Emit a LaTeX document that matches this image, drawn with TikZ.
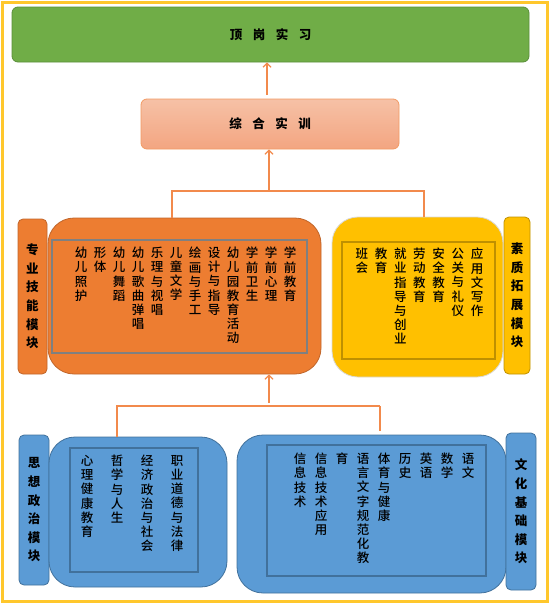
\documentclass[tikz,border=0pt]{standalone}
\usepackage{fontspec}
\newfontfamily\cjk{Noto Sans CJK SC}
\IfFontExistsTF{Noto Sans CJK SC Medium}
  {\newfontfamily\cjkm{Noto Sans CJK SC Medium}}
  {\newfontfamily\cjkm{Noto Sans CJK SC}}
\usetikzlibrary{arrows.meta}

\definecolor{frameGold}{HTML}{FFC72C}
\definecolor{greenFill}{HTML}{70AD47}
\definecolor{greenLine}{HTML}{5A8F3A}
\definecolor{salmonTop}{HTML}{F6C1A6}
\definecolor{salmonBot}{HTML}{F3A581}
\definecolor{salmonLine}{HTML}{F29A63}
\definecolor{orangeFill}{HTML}{ED7D31}
\definecolor{orangeLine}{HTML}{C0652A}
\definecolor{yellowFill}{HTML}{FFC000}
\definecolor{yellowLine}{HTML}{BF9000}
\definecolor{blueFill}{HTML}{5B9BD5}
\definecolor{blueLine}{HTML}{41719C}
\definecolor{linkOrange}{HTML}{F28A4C}

\begin{document}
\begin{tikzpicture}[x=1pt, y=-1pt,
  every node/.style={font=\cjk, inner sep=0pt},
  box/.style={draw, rounded corners=6pt, line width=0.8pt},
  big/.style={draw, rounded corners=26pt, line width=0.8pt},
  lab/.style={draw, rounded corners=5pt, line width=0.8pt, align=center,
    font=\cjk\bfseries\fontsize{12.5}{18.6}\selectfont},
  inbox/.style={draw, line width=1.2pt},
  col/.style={anchor=north, align=center, font=\cjkm\fontsize{12.5}{14.2}\selectfont},
  link/.style={draw=linkOrange, line width=1.2pt},
  up/.style={link, -{Straight Barb[length=4pt,width=8pt]}}
]
\useasboundingbox (0,0) rectangle (550,603);
\draw[frameGold, line width=3pt] (2.5,2.5) rectangle (547.5,601);

% --- top two stages ---
\node[box, fill=greenFill, draw=greenLine, minimum width=517pt, minimum height=55pt,
  font=\cjk\bfseries\fontsize{12.5}{15}\selectfont] (shixi) at (270.5,34.5)
  {顶\hspace{10.5pt}岗\hspace{10.5pt}实\hspace{10.5pt}习};
\node[box, top color=salmonTop, bottom color=salmonBot, draw=salmonLine,
  minimum width=258pt, minimum height=50pt,
  font=\cjk\bfseries\fontsize{12.5}{15}\selectfont] (shixun) at (270,124)
  {综\hspace{10.5pt}合\hspace{10.5pt}实\hspace{10.5pt}训};

% --- middle modules ---
\node[lab, fill=orangeFill, draw=orangeLine, minimum width=29pt, minimum height=155pt]
  (zhuanyeLab) at (32.5,296.5) {专\\业\\技\\能\\模\\块};
\node[big, fill=orangeFill, draw=orangeLine, minimum width=273pt, minimum height=156pt]
  (zhuanye) at (184.5,296) {};
\node[inbox, draw=gray, minimum width=255pt, minimum height=113pt]
  (zhuanyeIn) at (179.5,296.5) {};

\node[big, fill=yellowFill, draw=black!15, minimum width=171pt, minimum height=160pt]
  (suzhi) at (417.5,297) {};
\node[inbox, draw=yellowLine, minimum width=153pt, minimum height=117pt]
  (suzhiIn) at (418.5,300.5) {};
\node[lab, fill=yellowFill, draw=yellowLine, minimum width=26pt, minimum height=157pt]
  (suzhiLab) at (517,295.5) {素\\质\\拓\\展\\模\\块};

% --- bottom modules ---
\node[lab, fill=blueFill, draw=blueLine, minimum width=30pt, minimum height=150pt]
  (sixiangLab) at (34,510) {思\\想\\政\\治\\模\\块};
\node[big, fill=blueFill, draw=blueLine, minimum width=178pt, minimum height=150pt]
  (sixiang) at (138,512) {};
\node[inbox, draw=blueLine, minimum width=128pt, minimum height=124pt]
  (sixiangIn) at (134,510) {};

\node[big, fill=blueFill, draw=blueLine, minimum width=269pt, minimum height=158pt]
  (wenhua) at (371.5,514) {};
\node[inbox, draw=blueLine, minimum width=219pt, minimum height=131pt]
  (wenhuaIn) at (376.5,510.5) {};
\node[lab, fill=blueFill, draw=blueLine, minimum width=30pt, minimum height=157pt]
  (wenhuaLab) at (521,511.5) {文\\化\\基\\础\\模\\块};

% --- course columns, right to left ---
\foreach \t [count=\i] in {学\\前\\教\\育,学\\前\\心\\理,学\\前\\卫\\生,%
  幼\\儿\\园\\教\\育\\活\\动,设\\计\\与\\指\\导,绘\\画\\与\\手\\工,%
  儿\\童\\文\\学,乐\\理\\与\\视\\唱,幼\\儿\\歌\\曲\\弹\\唱,%
  幼\\儿\\舞\\蹈,形\\体,幼\\儿\\照\\护}
  \node[col] (zy\i) at ({290-19*(\i-1)},247) {\t};

\foreach \t [count=\i] in {应\\用\\文\\写\\作,公\\关\\与\\礼\\仪,安\\全\\教\\育,%
  劳\\动\\教\\育,就\\业\\指\\导\\与\\创\\业,教\\育,班\\会}
  \node[col] (sz\i) at ({477-19.17*(\i-1)},248) {\t};

\foreach \t [count=\i] in {职\\业\\道\\德\\与\\法\\律,经\\济\\政\\治\\与\\社\\会,%
  哲\\学\\与\\人\\生,心\\理\\健\\康\\教\\育}
  \node[col] (sx\i) at ({177-30*(\i-1)},455) {\t};

\foreach \t [count=\i] in {语\\文,数\\学,英\\语,历\\史,体\\育\\与\\健\\康,%
  语\\言\\文\\字\\规\\范\\化\\教,育,信\\息\\技\\术\\应\\用,信\\息\\技\\术}
  \node[col] (wh\i) at ({468-21*(\i-1)},453) {\t};

% --- connectors ---
\coordinate (a1) at (267,95);
\draw[up] (a1) -- (a1 |- shixi.south);

\coordinate (b0) at (269,191);
\coordinate (b1) at (172,191);
\coordinate (b2) at (424,191);
\draw[link] (b1 |- zhuanye.north) -- (b1) -- (b2) -- (b2 |- suzhi.north);
\draw[up] (b0) -- (b0 |- shixun.south);

\coordinate (c0) at (269,406);
\coordinate (c1) at (117,406);
\coordinate (c2) at (380,406);
\draw[link] (c1 |- sixiang.north) -- (c1) -- (c2);
\draw[link, shorten >=4pt] (c2) -- (c2 |- wenhua.north);
\draw[up, shorten <=3pt] (c0) -- (c0 |- zhuanye.south);

\end{tikzpicture}
\end{document}
